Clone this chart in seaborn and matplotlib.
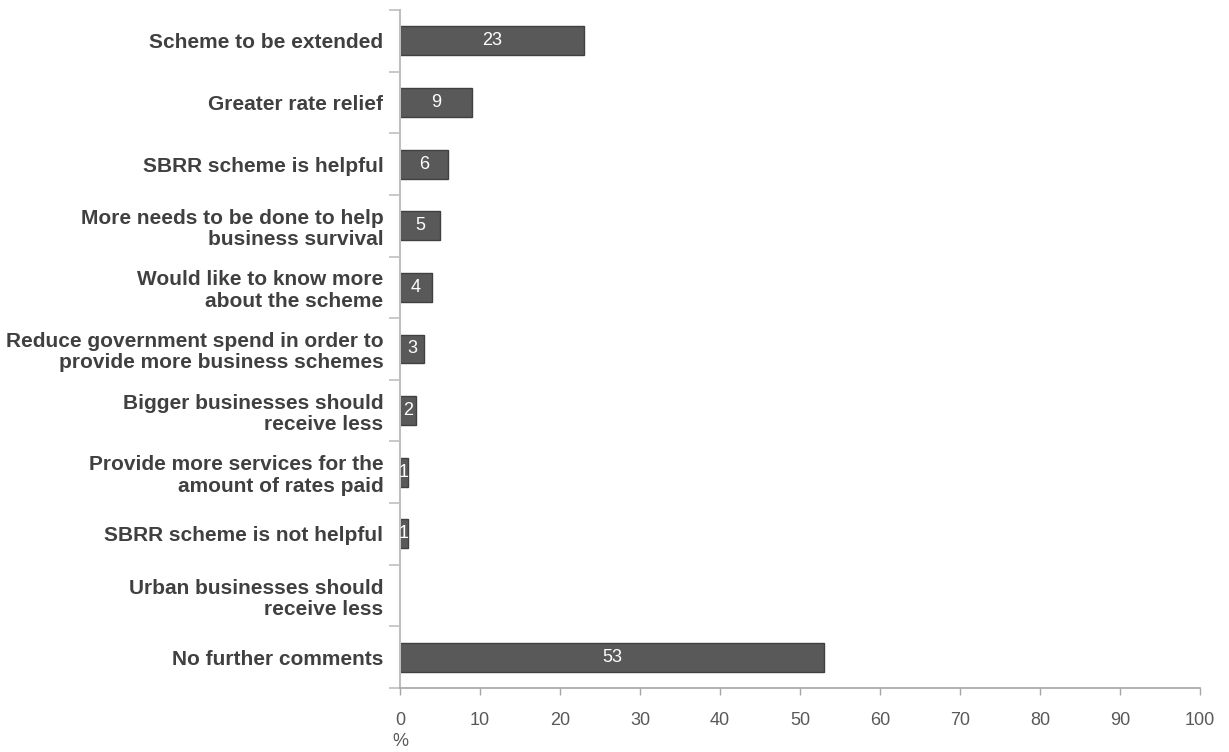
import matplotlib
matplotlib.use("Agg")
import matplotlib.pyplot as plt
import seaborn as sns
import pandas as pd
import numpy as np
from matplotlib.ticker import FixedLocator

categories = [
    "Scheme to be extended",
    "Greater rate relief",
    "SBRR scheme is helpful",
    "More needs to be done to help\nbusiness survival",
    "Would like to know more\nabout the scheme",
    "Reduce government spend in order to\nprovide more business schemes",
    "Bigger businesses should\nreceive less",
    "Provide more services for the\namount of rates paid",
    "SBRR scheme is not helpful",
    "Urban businesses should\nreceive less",
    "No further comments",
]
values = [23, 9, 6, 5, 4, 3, 2, 1, 1, 0, 53]
labels = ["23", "9", "6", "5", "4", "3", "2", "1", "1", "", "53"]
xticks = [0, 10, 20, 30, 40, 50, 60, 70, 80, 90, 100]

sns.set_theme(style="white")
plt.rcParams['font.family'] = ['Liberation Sans', 'DejaVu Sans']

df = pd.DataFrame({"cat": categories, "val": values})

fig = plt.figure(figsize=(12.29, 7.52), dpi=100)
ax = fig.add_axes([400/1229, 64/752, 800/1229, 678/752])

sns.barplot(data=df, y="cat", x="val", orient="h", color="#595959",
            width=0.47, edgecolor="#404040", linewidth=1, saturation=1, ax=ax)

for p, lab in zip(ax.patches, labels):
    if p.get_width() == 0:
        p.set_linewidth(0)
    if lab:
        ax.text(p.get_x() + p.get_width() / 2, p.get_y() + p.get_height() / 2, lab,
                ha="center", va="center", color="white", fontsize=13)

ax.set_xlim(0, 100)
ax.set_ylim(len(categories) - 0.5, -0.5)
ax.set_xticks(xticks)
ax.set_xticklabels([str(t) for t in xticks], fontsize=13, color="#595959")
ax.set_yticks(range(len(categories)))
ax.set_yticklabels(categories, fontsize=15, fontweight="bold", color="#404040",
                   linespacing=1.15)
ax.yaxis.set_minor_locator(FixedLocator(np.arange(-0.5, len(categories), 1)))
ax.tick_params(axis="y", which="major", length=0, pad=12)
ax.tick_params(axis="y", which="minor", length=8, color="#bfbfbf", width=1.2, left=True)
ax.tick_params(axis="x", which="major", length=5, color="#a6a6a6", width=1, bottom=True, pad=12)
ax.set_ylabel("")
ax.set_xlabel("%", fontsize=13, color="#595959")
ax.xaxis.set_label_coords(0.0, -0.066)
ax.xaxis.label.set_horizontalalignment("center")
for s in ["top", "right"]:
    ax.spines[s].set_visible(False)
ax.spines["left"].set_color("#bfbfbf")
ax.spines["left"].set_linewidth(1.5)
ax.spines["bottom"].set_color("#a6a6a6")
ax.spines["bottom"].set_linewidth(1.2)

fig.savefig("out.png", dpi=100)
